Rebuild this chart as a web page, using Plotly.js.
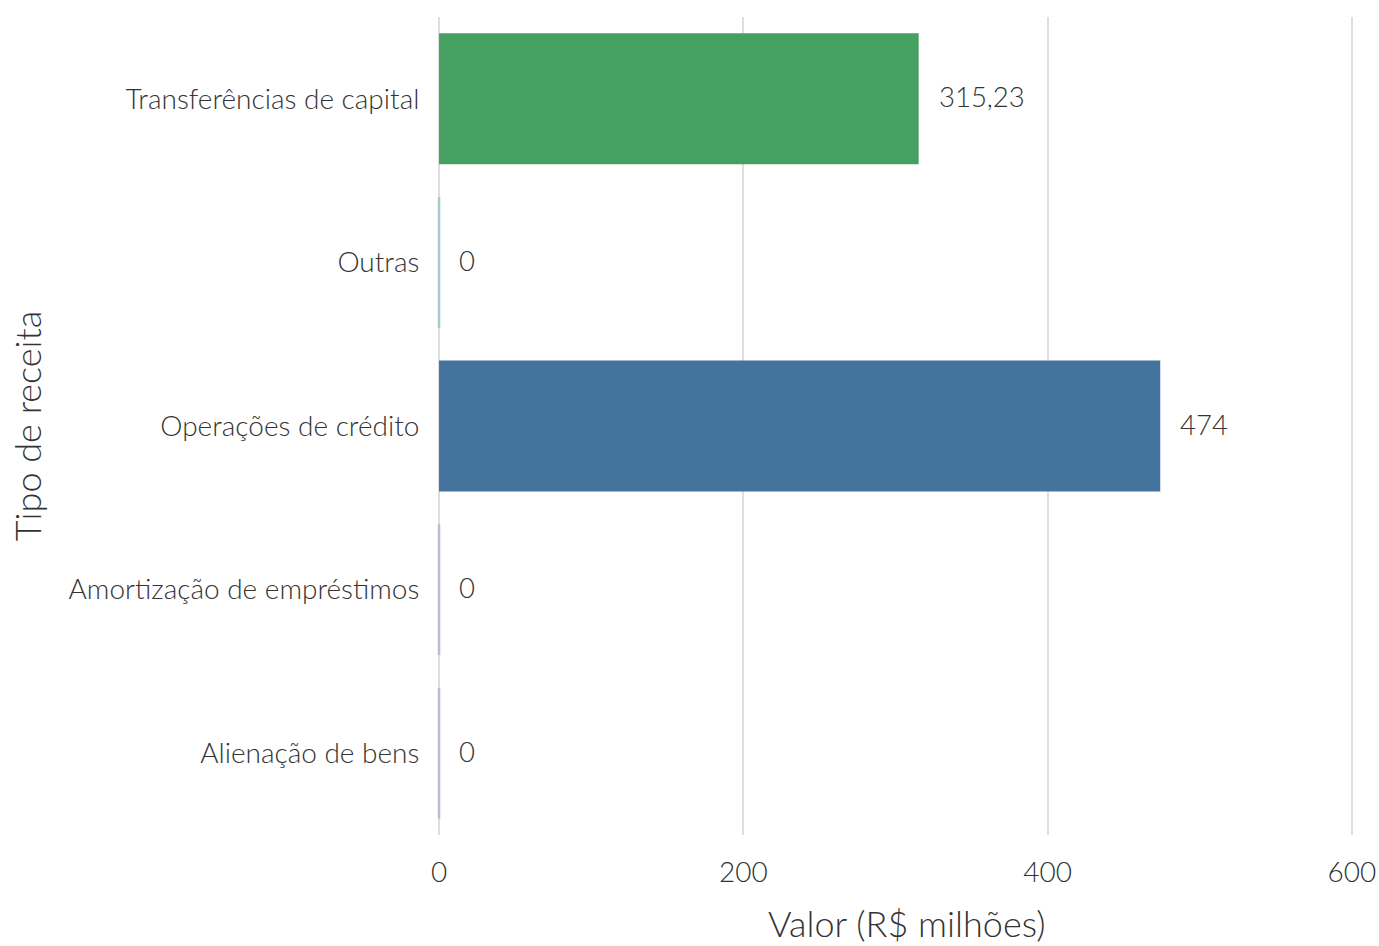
<!DOCTYPE html>
<html>
<head>
<meta charset="utf-8">
<script src="https://cdn.plot.ly/plotly-3.0.1.min.js"></script>
<style>html,body{margin:0;padding:0;background:#fff;}#chart{width:1379px;height:946px;}</style>
</head>
<body>
<div id="chart"></div>
<script>
const categories = ["Transferências de capital", "Outras", "Operações de crédito", "Amortização de empréstimos", "Alienação de bens"];
const values = [315.23, 0, 474, 0, 0];
const barColors = ["#46a062", "#a9c9cc", "#44749e", "#bdb9d6", "#bdb9d6"];
const xTicks = [0, 200, 400, 600];
const xTitle = 'Valor (R$ milhões)';
const yTitle = 'Tipo de receita';

function fmt(v) { return v.toLocaleString('pt-BR', {maximumFractionDigits: 2}); }

const font = "Lato, 'Open Sans', sans-serif";
const textColor = "#333333";

const trace = {
  type: 'bar',
  orientation: 'h',
  x: values,
  y: categories,
  marker: {color: barColors, line: {width: 0}},
  width: 0.8,
  hoverinfo: 'x+y'
};

const annotations = categories.map((c, i) => ({
  x: values[i], y: c, xref: 'x', yref: 'y',
  text: fmt(values[i]), showarrow: false,
  xanchor: 'left', xshift: 18, yshift: 2,
  font: {family: font, size: 27.5, color: textColor, weight: 300}
}));
annotations.push({
  xref: 'paper', yref: 'paper', x: 0.5125, y: 0,
  xanchor: 'center', yanchor: 'middle', yshift: -88,
  text: xTitle, showarrow: false,
  font: {family: font, size: 36, color: textColor, weight: 300}
});

const shapes = categories.map((c, i) => values[i] === 0 ? ({
  type: 'line', xref: 'x', yref: 'y',
  x0: 0, x1: 0, y0: i - 0.4, y1: i + 0.4,
  line: {color: barColors[i], width: 2.5}
}) : null).filter(s => s);

const layout = {
  width: 1379, height: 946,
  margin: {l: 436, r: 24, t: 17, b: 111},
  paper_bgcolor: '#fff', plot_bgcolor: '#fff',
  showlegend: false,
  font: {family: font, color: textColor, size: 28, weight: 300},
  xaxis: {
    range: [-2, 602], tickvals: xTicks, ticktext: xTicks.map(String),
    showgrid: true, gridcolor: '#dedede', gridwidth: 2,
    zeroline: false, showline: false,
    ticks: 'outside', ticklen: 12, tickcolor: 'rgba(0,0,0,0)',
    tickfont: {family: font, size: 28, color: textColor, weight: 300},
    fixedrange: true
  },
  yaxis: {
    type: 'category', categoryorder: 'array', categoryarray: categories,
    autorange: 'reversed',
    showgrid: false, zeroline: false, showline: false,
    ticks: 'outside', ticklen: 10, tickcolor: 'rgba(0,0,0,0)',
    tickfont: {family: font, size: 28, color: textColor, weight: 300},
    title: {text: yTitle, standoff: 16, font: {family: font, size: 36, color: textColor, weight: 300}},
    fixedrange: true
  },
  annotations: annotations,
  shapes: shapes
};

Plotly.newPlot('chart', [trace], layout, {displayModeBar: false, staticPlot: true});
</script>
</body>
</html>
